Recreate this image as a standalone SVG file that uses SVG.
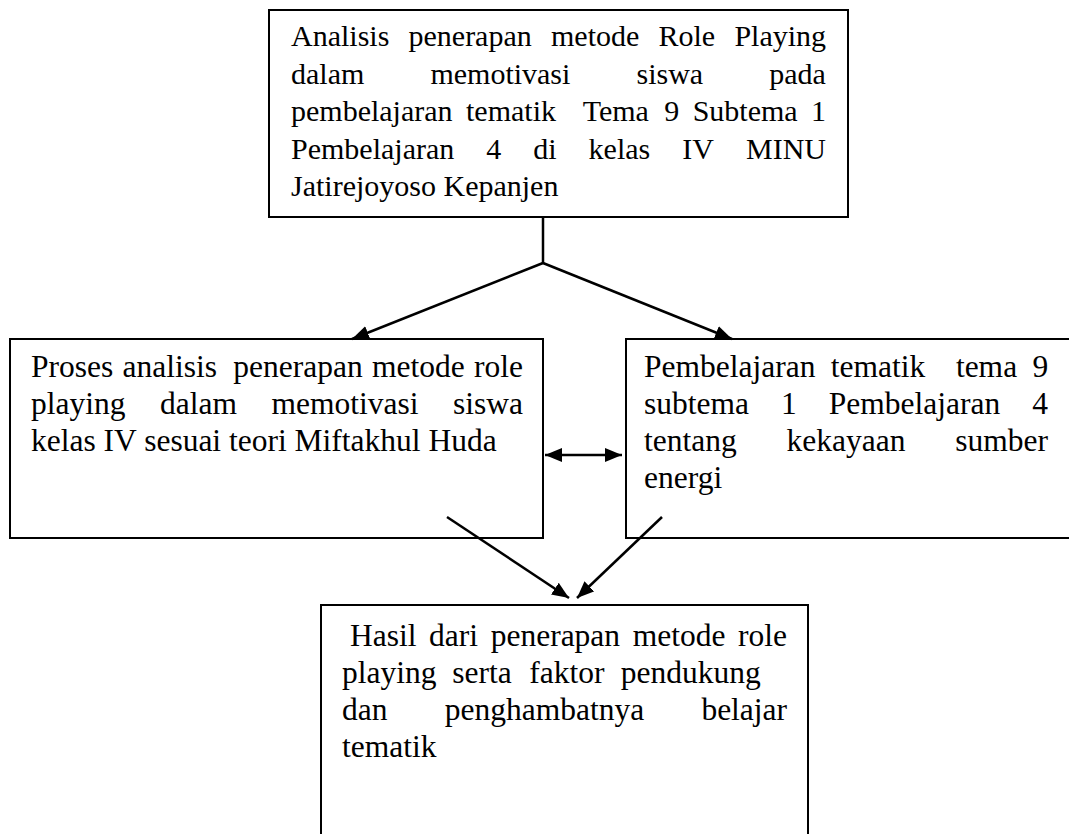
<svg xmlns="http://www.w3.org/2000/svg" width="1069" height="834" viewBox="0 0 1069 834">
<style>
.box{fill:#fff;stroke:#000;stroke-width:2}
.t{font-family:"Liberation Serif","Times New Roman",serif;fill:#000}
.t1{font-size:30px}
.t2{font-size:31.5px}
.c{stroke:#000;stroke-width:2.5;fill:none}
</style>
<defs>
<marker id="ah" markerUnits="userSpaceOnUse" markerWidth="18" markerHeight="14" refX="17" refY="7" orient="auto-start-reverse">
<path d="M0,0 L17,7 L0,14 z" fill="#000"/>
</marker>
</defs>
<rect width="1069" height="834" fill="#fff"/>
<g id="node-top">
<rect class="box" x="269" y="10" width="579" height="207"/>
<text class="t t1">
<tspan x="291" y="46">Analisis</tspan><tspan x="408.5" y="46">penerapan</tspan><tspan x="551" y="46">metode</tspan><tspan x="658.5" y="46">Role</tspan><tspan x="734.4" y="46">Playing</tspan>
<tspan x="291" y="83.5">dalam</tspan><tspan x="430.4" y="83.5">memotivasi</tspan><tspan x="636.5" y="83.5">siswa</tspan><tspan x="769.3" y="83.5">pada</tspan>
<tspan x="291" y="121">pembelajaran</tspan><tspan x="466" y="121">tematik</tspan><tspan x="582.7" y="121">Tema</tspan><tspan x="664.3" y="121">9</tspan><tspan x="692.7" y="121">Subtema</tspan><tspan x="811" y="121">1</tspan>
<tspan x="291" y="158.5">Pembelajaran</tspan><tspan x="486.3" y="158.5">4</tspan><tspan x="533.3" y="158.5">di</tspan><tspan x="588.6" y="158.5">kelas</tspan><tspan x="682.3" y="158.5">IV</tspan><tspan x="746" y="158.5">MINU</tspan>
<tspan x="291" y="196">Jatirejoyoso Kepanjen</tspan>
</text>
</g>
<g id="node-left">
<rect class="box" x="10" y="339" width="533" height="199"/>
<text class="t t2">
<tspan x="31" y="377">Proses</tspan><tspan x="122.5" y="377">analisis</tspan><tspan x="233.3" y="377">penerapan</tspan><tspan x="372" y="377">metode</tspan><tspan x="474" y="377">role</tspan>
<tspan x="31" y="414">playing</tspan><tspan x="160" y="414">dalam</tspan><tspan x="271.5" y="414">memotivasi</tspan><tspan x="453" y="414">siswa</tspan>
<tspan x="31" y="451">kelas IV sesuai teori Miftakhul Huda</tspan>
</text>
</g>
<g id="node-right">
<rect class="box" x="626" y="339" width="460" height="199"/>
<text class="t t2">
<tspan x="644" y="377">Pembelajaran</tspan><tspan x="830.8" y="377">tematik</tspan><tspan x="955.9" y="377">tema</tspan><tspan x="1032.4" y="377">9</tspan>
<tspan x="644" y="414">subtema</tspan><tspan x="781" y="414">1</tspan><tspan x="828.75" y="414">Pembelajaran</tspan><tspan x="1032.25" y="414">4</tspan>
<tspan x="644" y="451">tentang</tspan><tspan x="786.5" y="451">kekayaan</tspan><tspan x="955.2" y="451">sumber</tspan>
<tspan x="644" y="488">energi</tspan>
</text>
</g>
<g id="node-bottom">
<rect class="box" x="321" y="605" width="487" height="240"/>
<text class="t t2">
<tspan x="350" y="646">Hasil</tspan><tspan x="429.1" y="646">dari</tspan><tspan x="490.7" y="646">penerapan</tspan><tspan x="632.7" y="646">metode</tspan><tspan x="738" y="646">role</tspan>
<tspan x="342" y="683">playing</tspan><tspan x="452.3" y="683">serta</tspan><tspan x="529.3" y="683">faktor</tspan><tspan x="620.7" y="683">pendukung</tspan>
<tspan x="342" y="720">dan</tspan><tspan x="444.7" y="720">penghambatnya</tspan><tspan x="701.4" y="720">belajar</tspan>
<tspan x="342" y="757">tematik</tspan>
</text>
</g>
<g id="connectors">
<line class="c" x1="543" y1="217" x2="543" y2="263"/>
<line class="c" x1="543" y1="263" x2="352" y2="339" marker-end="url(#ah)"/>
<line class="c" x1="543" y1="263" x2="732" y2="339" marker-end="url(#ah)"/>
<line class="c" x1="545" y1="455" x2="622" y2="455" marker-start="url(#ah)" marker-end="url(#ah)"/>
<line class="c" x1="447" y1="517" x2="569" y2="598" marker-end="url(#ah)"/>
<line class="c" x1="662" y1="517" x2="577" y2="598" marker-end="url(#ah)"/>
</g>
</svg>
